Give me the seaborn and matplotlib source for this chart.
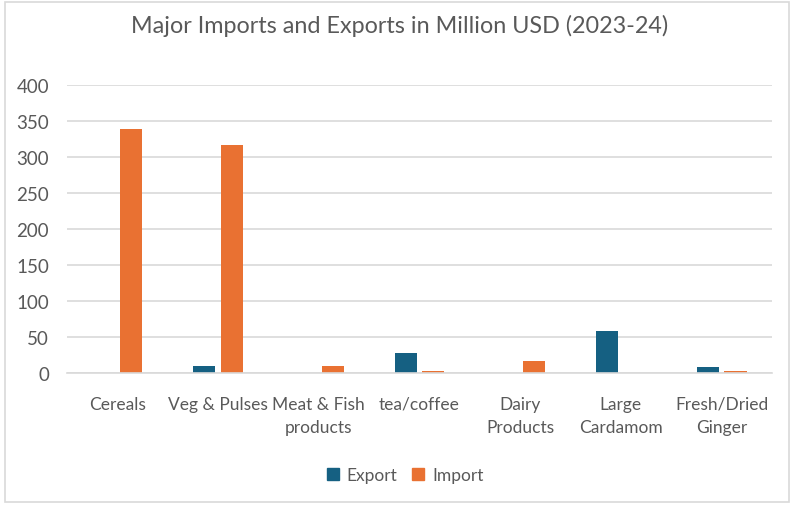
import matplotlib
matplotlib.use("Agg")
import matplotlib.pyplot as plt
from matplotlib.patches import Rectangle
import seaborn as sns
import pandas as pd

# Trade values in million USD, 2023-24
categories = ["Cereals", "Veg & Pulses", "Meat & Fish\nproducts", "tea/coffee",
              "Dairy\nProducts", "Large\nCardamom", "Fresh/Dried\nGinger"]
export_values = [0, 10, 0, 27, 0, 58, 8]
import_values = [339, 316, 10, 2, 16, 0, 2]
series_names = ["Export", "Import"]
y_ticks = [0, 50, 100, 150, 200, 250, 300, 350, 400]

colors = {"Export": "#156082", "Import": "#E97132"}
text_color = "#595959"
grid_color = "#D9D9D9"

df = pd.DataFrame({
    "Category": categories * 2,
    "Type": ["Export"] * len(categories) + ["Import"] * len(categories),
    "Value": export_values + import_values,
})

sns.set_theme(style="white")
plt.rcParams["font.family"] = ["Lato", "DejaVu Sans"]

fig = plt.figure(figsize=(7.94, 5.06), dpi=100)
ax = fig.add_axes([67 / 794, 1 - 373.7 / 506, 705 / 794, 288 / 506])

sns.barplot(data=df, x="Category", y="Value", hue="Type", order=categories,
            hue_order=series_names, palette=colors, width=0.55, gap=0.2,
            linewidth=0, saturation=1, ax=ax, legend=False)

ax.set_ylim(0, 400)
ax.set_xlim(-0.5, len(categories) - 0.5)
ax.set_yticks(y_ticks)
ax.yaxis.grid(True, color=grid_color, linewidth=1.2)
ax.set_axisbelow(True)
for side in ["top", "right", "left"]:
    ax.spines[side].set_visible(False)
ax.spines["bottom"].set_color(grid_color)
ax.spines["bottom"].set_linewidth(1.2)
ax.set_xlabel("")
ax.set_ylabel("")
ax.tick_params(axis="x", length=0, pad=16.5, labelsize=12.5, labelcolor=text_color)
ax.tick_params(axis="y", length=0, pad=13, labelsize=13.5, labelcolor=text_color)
for lbl in ax.get_xticklabels():
    lbl.set_linespacing(1.58)

fig.text(0.503, 0.948, "Major Imports and Exports in Million USD (2023-24)",
         ha="center", va="center", fontsize=16.8, color=text_color)

handles = [Rectangle((0, 0), 1, 1, color=colors[s]) for s in series_names]
fig.legend(handles, series_names, loc="center", bbox_to_anchor=(0.51, 0.059),
           ncol=2, frameon=False, fontsize=12.5, labelcolor=text_color,
           handlelength=0.7, handleheight=0.7, handletextpad=0.45, columnspacing=0.85)

# Light frame around the whole chart
fig.patches.append(Rectangle((0.006, 0.006), 0.988, 0.988, transform=fig.transFigure,
                             fill=False, edgecolor=grid_color, linewidth=1.2))

fig.savefig("out.png", dpi=100)
